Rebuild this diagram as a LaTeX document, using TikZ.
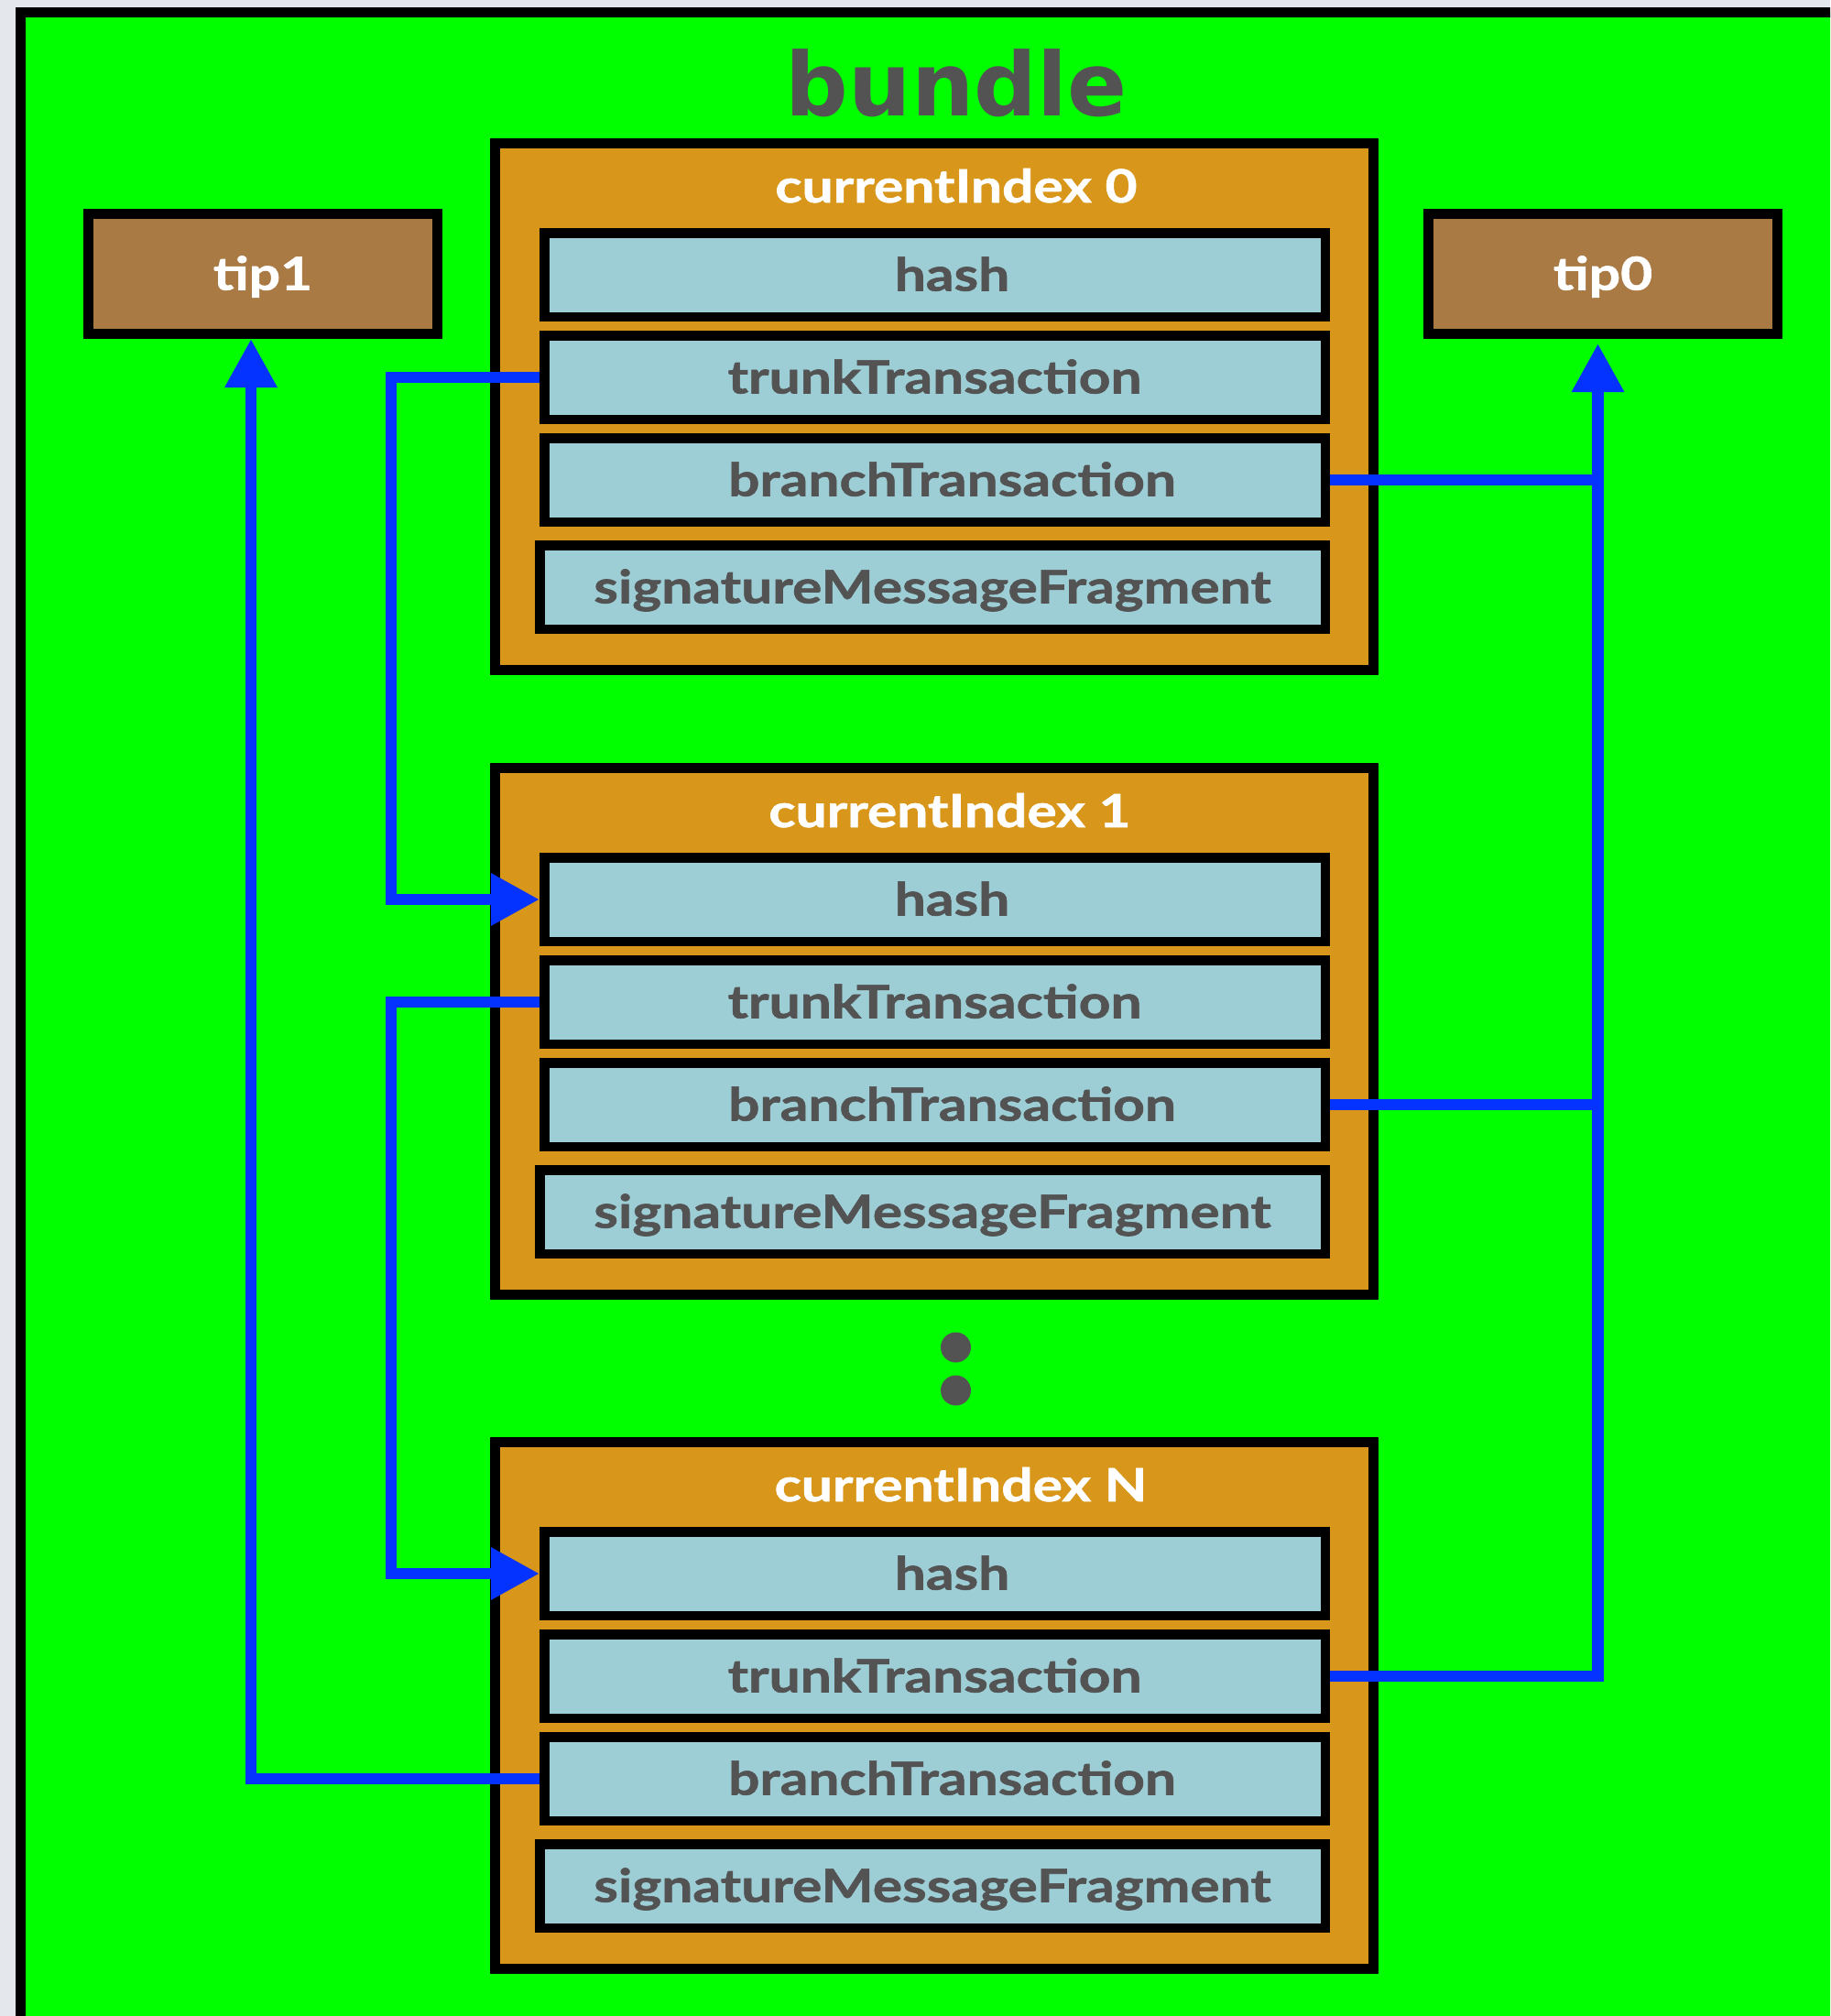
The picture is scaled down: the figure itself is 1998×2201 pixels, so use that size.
\documentclass[tikz,border=0pt]{standalone}
\usepackage{fontspec}
\usetikzlibrary{arrows.meta}

% faces
\newfontfamily\fieldfamily[FakeStretch=1.21, FakeBold=1.2]{Lato}
\newfontfamily\headfamily{DejaVu Sans}
\newcommand\fieldfnt{\fieldfamily\bfseries\fontsize{50}{60}\selectfont}
\newcommand\labelfnt{\fieldfamily\bfseries\fontsize{50}{60}\selectfont}
\newcommand\headfnt{\headfamily\bfseries\fontsize{96}{110}\selectfont}

% palette
\definecolor{pagegray}{HTML}{E4E7EC}
\definecolor{bundlegreen}{HTML}{02FF00}
\definecolor{txorange}{HTML}{D8961A}
\definecolor{tipbrown}{HTML}{AA7A44}
\definecolor{fieldblue}{HTML}{9DCED6}
\definecolor{inkgray}{HTML}{535353}
\definecolor{linkblue}{HTML}{0433FF}

\begin{document}
\begin{tikzpicture}[x=1pt,y=-1pt,
  txbox/.style={draw=black, line width=11pt, fill=txorange, inner sep=0pt,
    minimum width=959pt, minimum height=575pt},
  field/.style={draw=black, line width=10.5pt, fill=fieldblue, inner sep=0pt,
    minimum width=852.5pt, minimum height=91.5pt, text=inkgray, font=\fieldfnt,
    text height=35pt, text depth=0pt},
  sigfield/.style={field, minimum width=857.5pt},
  tipbox/.style={draw=black, line width=11pt, fill=tipbrown, inner sep=0pt,
    minimum width=381pt, minimum height=131pt, text=white, font=\fieldfnt,
    text height=35pt, text depth=0pt},
  idxlabel/.style={anchor=base, inner sep=0pt, text=white, font=\labelfnt},
  dotmark/.style={circle, fill=inkgray, inner sep=0pt, minimum size=33pt},
  link/.style={draw=linkblue, line width=12.5pt, line join=miter},
  tohead/.style={-{Triangle[length=53pt,width=54pt]}}
]
\useasboundingbox (0,0) rectangle (1998,2201);
\clip (0,0) rectangle (1998,2201);

% page and bundle frame
\fill[pagegray] (0,0) rectangle (1998,2201);
\draw[line width=11pt, fill=bundlegreen] (22.5,13.5) rectangle (2100,2300);
\node[anchor=base, inner sep=0pt, text=inkgray, font=\headfnt] (title) at (1044,126) {bundle};

% tips
\node[tipbox] (tip1) at (287,299) {tip1};
\node[tipbox] (tip0) at (1750,299) {tip0};

% transaction 0
\node[txbox] (tx0) at (1020,444) {};
\node[idxlabel] (lab0) at (1044,221) {currentIndex 0};
\node[field] (h0) at (1020.5,300) {\hspace*{38pt}hash};
\node[field] (t0) at (1020.5,412) {trunkTransaction};
\node[field] (b0) at (1020.5,524) {\hspace*{38pt}branchTransaction};
\node[sigfield] (s0) at (1018,641) {signatureMessageFragment};

% transaction 1
\node[txbox] (tx1) at (1020,1126) {};
\node[idxlabel] (lab1) at (1037,903) {currentIndex 1};
\node[field] (h1) at (1020.5,982) {\hspace*{38pt}hash};
\node[field] (t1) at (1020.5,1094) {trunkTransaction};
\node[field] (b1) at (1020.5,1206) {\hspace*{38pt}branchTransaction};
\node[sigfield] (s1) at (1018,1323) {signatureMessageFragment};

% ellipsis
\node[dotmark] (dotA) at (1043.5,1471) {};
\node[dotmark] (dotB) at (1043.5,1518) {};

% transaction N
\node[txbox] (txN) at (1020,1861.5) {};
\node[idxlabel] (labN) at (1049,1639) {currentIndex N};
\node[field] (hN) at (1020.5,1718) {\hspace*{38pt}hash};
\node[field] (tN) at (1020.5,1830) {trunkTransaction};
\node[field] (bN) at (1020.5,1942) {\hspace*{38pt}branchTransaction};
\node[sigfield] (sN) at (1018,2059) {signatureMessageFragment};

% routing columns
\coordinate (trunkbus) at (427,0);
\coordinate (tip1bus) at (274,0);
\coordinate (tip0bus) at (1744.5,0);

% trunk references
\draw[link, tohead] (t0.west) -- (t0.west -| trunkbus) -- (h1.west -| trunkbus) -- (h1.west);
\draw[link, tohead] (t1.west) -- (t1.west -| trunkbus) -- (hN.west -| trunkbus) -- (hN.west);

% branch of the last transaction to tip1
\draw[link, tohead] (bN.west) -- (bN.west -| tip1bus) -- (tip1.south -| tip1bus);

% references to tip0
\draw[link] (b0.east) -- (b0.east -| tip0bus);
\draw[link] (b1.east) -- (b1.east -| tip0bus);
\draw[link, tohead, shorten >=5pt] (tN.east) -- (tN.east -| tip0bus) -- (tip0.south -| tip0bus);
\end{tikzpicture}
\end{document}
